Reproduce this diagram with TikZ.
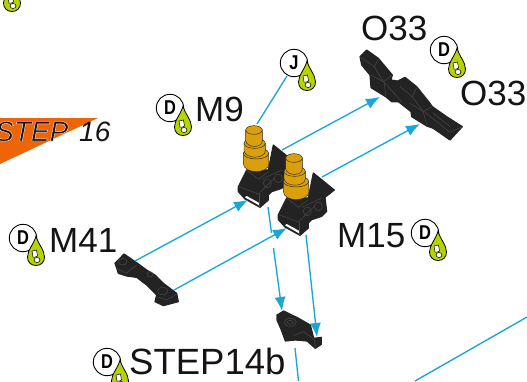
\documentclass[tikz,border=0pt]{standalone}
\usepackage{fontspec}
\setmainfont{Liberation Sans}
\usetikzlibrary{arrows.meta}
\definecolor{cyanline}{HTML}{1AA7D8}
\definecolor{partdark}{HTML}{232323}
\definecolor{partline}{HTML}{484848}
\definecolor{brass}{HTML}{D9A00B}
\definecolor{dropgreen}{HTML}{B6D400}
\definecolor{steporange}{HTML}{EE6407}
\tikzset{
  lbl/.style={anchor=base west,inner sep=0pt,text=black!92,font=\fontsize{35}{35}\selectfont},
  steptext/.style={anchor=base west,inner sep=0pt,text=black!92,font=\itshape\fontsize{28}{28}\selectfont},
  conn/.style={draw=cyanline,line width=1.35pt},
  arr/.style={conn,-{Latex[length=14pt,width=11pt]}},
  partbody/.style={fill=partdark,draw=partdark,line width=1.2pt,line join=round},
  detail/.style={draw=partline,line width=0.5pt},
  pegline/.style={draw=black!85,line width=0.45pt,fill=brass},
  badge/.pic={
    \node[circle,draw=black,fill=white,line width=0.9pt,minimum size=27.4pt,inner sep=0pt,font=\bfseries\fontsize{20}{20}\selectfont] (-disc) at (0,0) {\scalebox{0.82}[1]{#1}};
    \draw[fill=dropgreen,draw=black,line width=0.8pt] (13,-2) .. controls (15,6) and (21.5,12) .. (21.5,19) .. controls (21.5,24) and (18,27.5) .. (13,27.5) .. controls (8,27.5) and (4.5,24) .. (4.5,19) .. controls (4.5,12) and (11,6) .. cycle;
    \draw[fill=white,draw=black,line width=0.5pt] (9,13) -- (13.5,12) -- (14.5,18) -- (12.5,19) -- (10,19) -- cycle;
    \draw[fill=white,draw=black,line width=0.5pt] (14,22) ellipse [x radius=3,y radius=2.5];
  },
  bracket/.pic={
    \begin{scope}[scale=1/3]
    \path[partbody] (10,200) -- (35,150) -- (100,150) -- (115,75) -- (178,126) -- (150,148) -- (155,190) -- (140,205) -- (110,215) -- (100,225) -- (100,240) -- (75,262) -- (30,237) -- (10,215) -- cycle;
    \fill[white] (30,232) -- (35,228) -- (75,250) -- (72,256) -- cycle;
    \draw[detail] (12,200) -- (70,222) -- (118,175);
    \draw[detail] (72,222) -- (72,260);
    \draw[detail] (35,150) -- (70,178) -- (100,155);
    \draw[detail] (80,178) -- (140,150);
    \draw[detail] (97,190) ellipse [x radius=12,y radius=13];
    \draw[detail] (130,175) ellipse [x radius=12,y radius=13];
    \draw[pegline] (25,100) -- (25,130) .. controls (25,163) and (102,163) .. (102,130) -- (100,100) -- cycle;
    \draw[pegline] (63,100) ellipse [x radius=38,y radius=17];
    \draw[pegline] (27,70) -- (27,92) .. controls (30,118) and (91,118) .. (91,92) -- (91,70) -- cycle;
    \draw[pegline] (59,70) ellipse [x radius=32,y radius=15];
    \draw[pegline] (32,30) -- (32,62) .. controls (35,85) and (82,85) .. (82,62) -- (82,30) -- cycle;
    \draw[pegline] (57,30) ellipse [x radius=25,y radius=13];
    \end{scope}
  },
}
\begin{document}
\begin{tikzpicture}[x=1pt,y=-1pt]
\useasboundingbox (0,0) rectangle (527,381);
\clip (0,0) rectangle (527,381);
% step flag
\fill[steporange] (0,118) -- (98,118) -- (0,164) -- cycle;
\node[steptext] (steplabel) at (-5,141) {\special{pdf:code 2 Tr 1 1 1 RG 0.4 w}STEP\special{pdf:code 0 Tr}};
\node[steptext] (stepnum) at (79,141) {16};
% coordinates for connectors
\coordinate (jfrom) at (287,76);
\coordinate (pegtop) at (257,124);
\coordinate (a1s) at (135,261); \coordinate (a1e) at (248,200);
\coordinate (a2s) at (174,290); \coordinate (a2e) at (287,228);
\coordinate (a3s) at (282,150); \coordinate (a3e) at (380,97);
\coordinate (a4s) at (322,177); \coordinate (a4e) at (420,124);
\coordinate (a5s) at (268,207); \coordinate (a5m) at (271.5,233);
\coordinate (a5n) at (273.5,248); \coordinate (a5e) at (282,311);
\coordinate (a6s) at (306,235); \coordinate (a6e) at (317,337);
\coordinate (b1s) at (295,348); \coordinate (b1e) at (298.5,381);
\coordinate (b2s) at (527,317); \coordinate (b2e) at (415,381);
% connectors behind parts
\draw[conn] (jfrom) -- (pegtop);
\draw[conn] (a5s) -- (a5m);
\draw[arr] (a5n) -- (a5e);
\draw[conn] (b1s) -- (b1e);
\draw[conn] (b2s) -- (b2e);
\draw[arr] (a3s) -- (a3e);
\draw[arr] (a4s) -- (a4e);
% O33 part
\begin{scope}[shift={(355,45)},scale=1/3]
\path[partbody] (15,35) -- (35,15) -- (70,40) -- (112,90) -- (108,105) -- (128,108) -- (150,97) -- (185,125) -- (225,175) -- (232,185) -- (275,215) -- (322,245) -- (285,285) -- (235,250) -- (215,243) -- (170,215) -- (168,200) -- (130,170) -- (110,170) -- (92,155) -- (48,128) -- (45,90) -- (20,60) -- cycle;
\draw[detail] (17,37) -- (58,65) -- (85,110) -- (110,92);
\draw[detail] (47,90) -- (88,112) -- (92,155);
\draw[detail] (88,112) -- (140,170);
\draw[detail] (135,125) -- (172,155) -- (205,200) -- (230,185);
\draw[detail] (165,175) -- (205,200) -- (215,240);
\draw[detail] (208,200) -- (285,262) -- (322,245);
\draw[detail] (235,205) -- (285,245);
\draw[detail] (58,65) -- (70,42);
\draw[detail] (172,155) -- (185,128);
\end{scope}
% M41 part
\begin{scope}[shift={(0,190)},scale=1/3]
\path[partbody] (345,220) -- (372,192) -- (410,218) -- (440,240) -- (465,255) -- (490,280) -- (530,310) -- (535,335) -- (490,347) -- (465,335) -- (470,315) -- (440,285) -- (410,262) -- (380,258) -- (355,250) -- cycle;
\draw[detail] (368,215) ellipse [x radius=13,y radius=10];
\draw[detail] (488,303) ellipse [x radius=15,y radius=12];
\draw[detail] (450,253) ellipse [x radius=9,y radius=8];
\draw[detail] (350,235) -- (378,250) -- (410,225);
\draw[detail] (470,320) -- (500,330) -- (530,312);
\end{scope}
% M15 part
\begin{scope}[shift={(272,305)},scale=1/3]
\path[partbody] (15,30) -- (35,18) -- (80,40) -- (115,60) -- (125,100) -- (148,97) -- (148,118) -- (130,130) -- (105,108) -- (70,105) -- (40,108) -- (28,75) -- (15,45) -- cycle;
\draw[detail] (55,52) ellipse [x radius=18,y radius=12];
\draw[detail] (55,52) ellipse [x radius=9,y radius=6];
\draw[detail] (65,92) -- (95,80) -- (128,105);
\draw[detail] (128,105) -- (130,130);
\end{scope}
\draw[arr] (a6s) -- (a6e);
% brackets with pegs
\pic (bracketA) at (235,120) {bracket};
\draw[arr] (a1s) -- (a1e);
\pic (bracketB) at (275,148) {bracket};
\draw[arr] (a2s) -- (a2e);
% labels
\node[lbl] (m9) at (195,121) {M9};
\node[lbl] (o33a) at (361,40) {O33};
\node[lbl] (o33b) at (460,105) {O33};
\node[lbl] (m41) at (49,252) {M41};
\node[lbl] (m15) at (337,247) {M15};
\node[lbl,font=\fontsize{36.5}{36.5}\selectfont] (s14b) at (129,374) {STEP14b};
% badges
\pic (b0) at (-1,-16) {badge=D};
\pic (bm9) at (170,108) {badge=D};
\pic (bj) at (294,63) {badge=J};
\pic (bo) at (444,50) {badge=D};
\pic (bm41) at (23,238) {badge=D};
\pic (bs) at (107,362) {badge=D};
\pic (bm15) at (425,233) {badge=D};
\end{tikzpicture}
\end{document}
